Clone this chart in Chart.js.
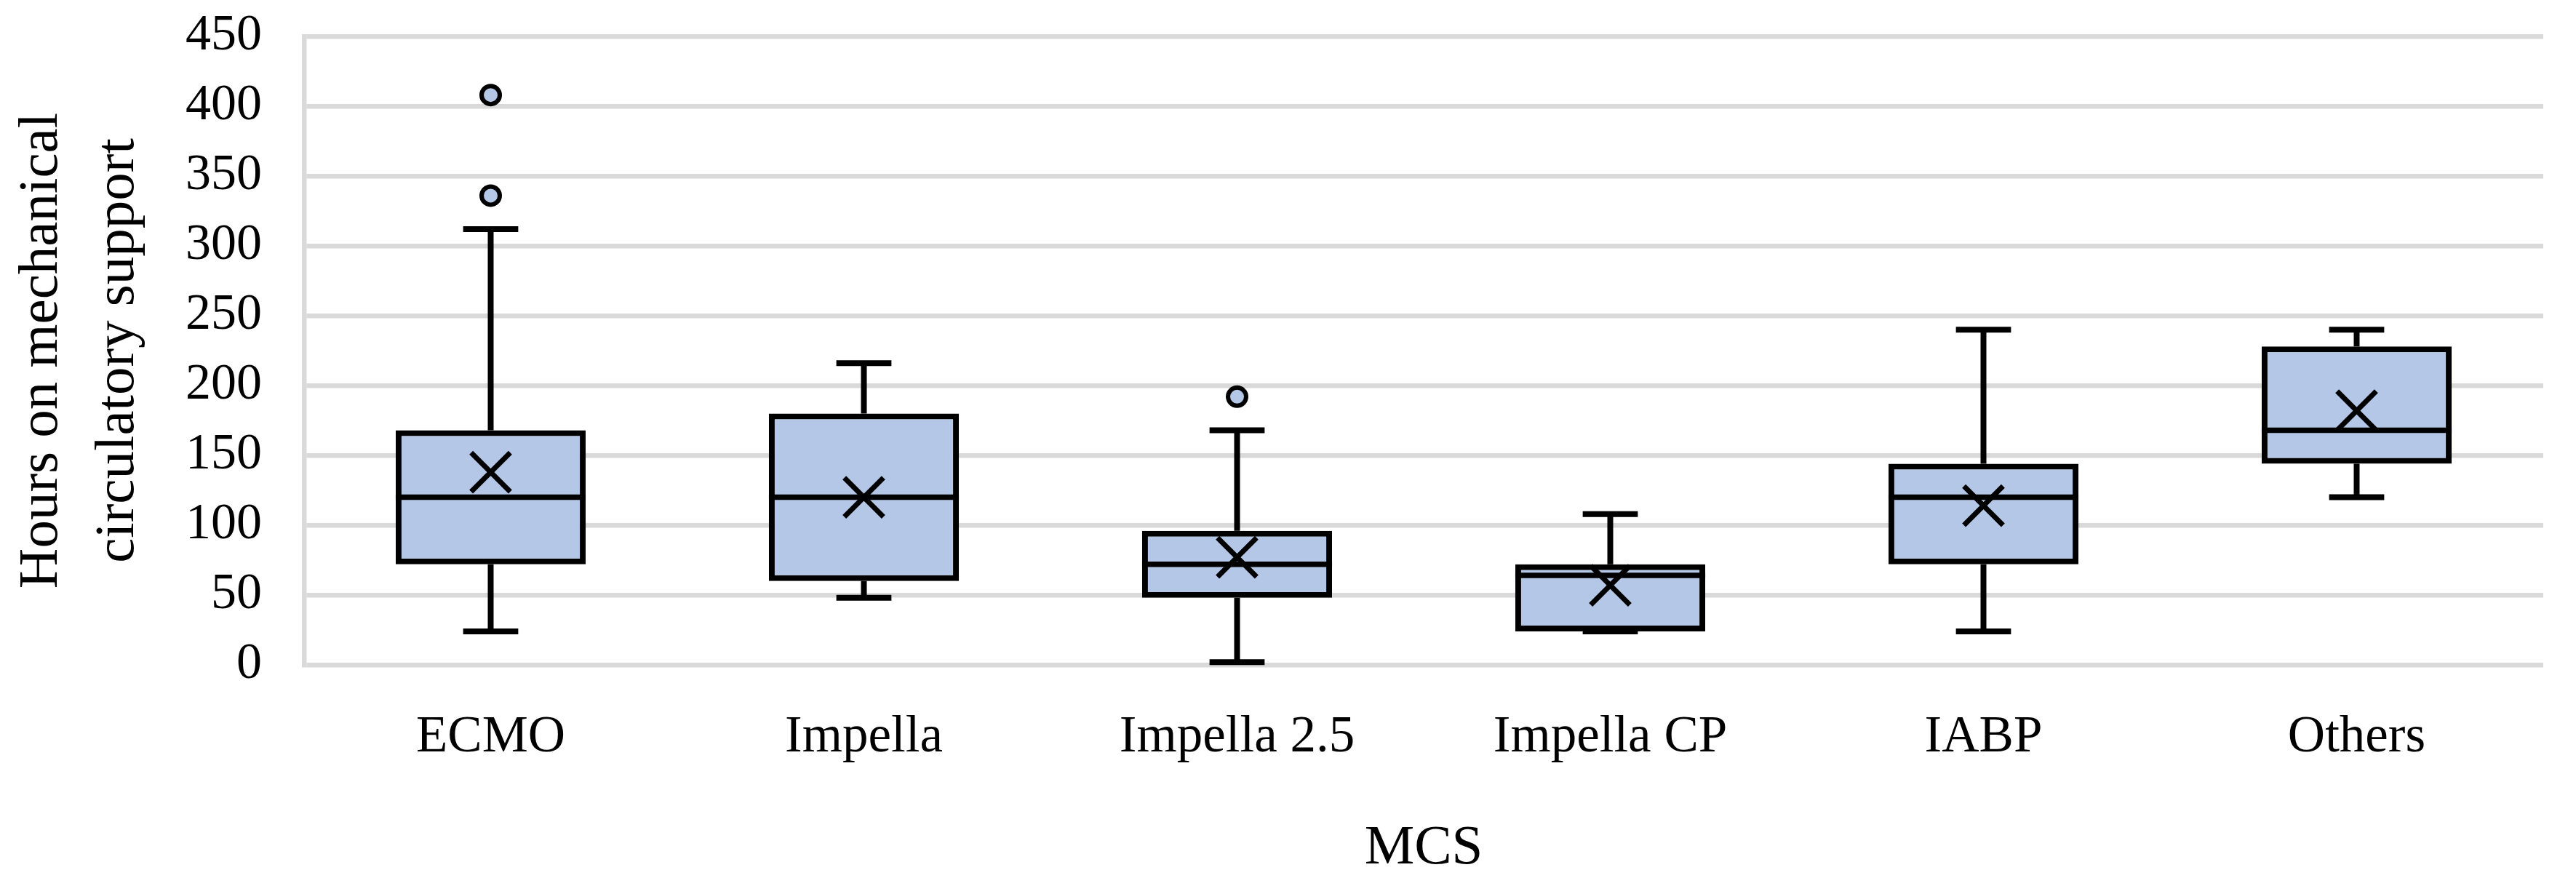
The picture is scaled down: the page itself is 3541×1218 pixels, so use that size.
<!DOCTYPE html>
<html>
<head>
<meta charset="utf-8">
<title>Hours on mechanical circulatory support</title>
<script src="https://cdn.jsdelivr.net/npm/chart.js@4/dist/chart.umd.min.js"></script>
<style>
  html, body { margin: 0; padding: 0; background: #ffffff; }
  #wrap { width: 3541px; height: 1218px; position: relative; }
</style>
</head>
<body>
<div id="wrap"><canvas id="mcs-chart"></canvas></div>
<script>
"use strict";

// Data (hours)
const categories = ["ECMO", "Impella", "Impella 2.5", "Impella CP", "IABP", "Others"];
const minVals    = [24, 48, 2, 24, 24, 120];
const q1Vals     = [72, 60, 48, 24, 72, 144];
const medianVals = [120, 120, 72, 64, 120, 168];
const q3Vals     = [168, 180, 96, 72, 144, 228];
const maxVals    = [312, 216, 168, 108, 240, 240];
const meanVals   = [138, 120, 77, 57, 114, 182];
const outlierCats = ["ECMO", "ECMO", "Impella 2.5"];
const outlierVals = [408, 336, 192];
const yTicks = [0, 50, 100, 150, 200, 250, 300, 350, 400, 450];

const boxFill = "#b4c7e7";
const gridGrey = "#d9d9d9";
const serif = "'Liberation Serif', 'Times New Roman', serif";

// whiskers go under the boxes, medians on top of them
const boxPlotLines = {
    id: "boxPlotLines",
    beforeDatasetsDraw(chart) {
        const meta = chart.getDatasetMeta(0);
        const y = chart.scales.y;
        const ctx = chart.ctx;
        ctx.save();
        ctx.strokeStyle = "#000000";
        ctx.lineWidth = 8;
        ctx.lineCap = "butt";
        meta.data.forEach((bar, i) => {
            const half = bar.width * 0.145;
            const yMin = y.getPixelForValue(minVals[i]);
            const yMax = y.getPixelForValue(maxVals[i]);
            const yQ1 = y.getPixelForValue(q1Vals[i]);
            const yQ3 = y.getPixelForValue(q3Vals[i]);
            ctx.beginPath();
            ctx.moveTo(bar.x, yQ3);
            ctx.lineTo(bar.x, yMax);
            ctx.moveTo(bar.x - half, yMax);
            ctx.lineTo(bar.x + half, yMax);
            ctx.moveTo(bar.x, yQ1);
            ctx.lineTo(bar.x, yMin);
            ctx.moveTo(bar.x - half, yMin);
            ctx.lineTo(bar.x + half, yMin);
            ctx.stroke();
        });
        ctx.restore();
    },
    afterDatasetDraw(chart, args) {
        if (args.index !== 0) return;
        const meta = chart.getDatasetMeta(0);
        const y = chart.scales.y;
        const ctx = chart.ctx;
        ctx.save();
        ctx.strokeStyle = "#000000";
        ctx.lineWidth = 7.5;
        meta.data.forEach((bar, i) => {
            const yMed = y.getPixelForValue(medianVals[i]);
            ctx.beginPath();
            ctx.moveTo(bar.x - bar.width / 2, yMed);
            ctx.lineTo(bar.x + bar.width / 2, yMed);
            ctx.stroke();
        });
        ctx.restore();
    }
};

let boxes = categories.map((c, i) => [q1Vals[i], q3Vals[i]]);
let outlierPts = outlierCats.map((c, i) => ({ x: c, y: outlierVals[i] }));

var ctx1 = document.querySelector("#mcs-chart");
var myChart = new Chart(ctx1, {
    type: "bar",
    data: {
        labels: categories,
        datasets: [
            {
                label: "Box",
                data: boxes,
                backgroundColor: boxFill,
                borderColor: "#000000",
                borderWidth: 8,
                borderSkipped: false,
                categoryPercentage: 1,
                barPercentage: 0.509,
                order: 3
            },
            {
                type: "line",
                label: "Outliers",
                data: outlierPts,
                showLine: false,
                pointStyle: "circle",
                pointRadius: 12.5,
                pointBorderWidth: 6,
                pointBackgroundColor: boxFill,
                pointBorderColor: "#000000",
                order: 2
            },
            {
                type: "line",
                label: "Mean",
                data: meanVals,
                showLine: false,
                pointStyle: "crossRot",
                pointRadius: 38,
                pointBorderWidth: 7,
                pointBorderColor: "#000000",
                pointBackgroundColor: "#000000",
                order: 1
            }
        ]
    },
    options: {
        responsive: true,
        maintainAspectRatio: false,
        animation: false,
        events: [],
        layout: { padding: { top: 50, right: 35, bottom: 0, left: 0 } },
        plugins: {
            legend: { display: false },
            tooltip: { enabled: false }
        },
        scales: {
            x: {
                grid: { display: false, drawTicks: false },
                border: { display: false },
                ticks: {
                    color: "#000000",
                    padding: 58,
                    maxRotation: 0,
                    font: { family: serif, size: 71, lineHeight: 1.2 }
                },
                title: {
                    display: true,
                    text: "MCS",
                    color: "#000000",
                    padding: { top: 0, bottom: 5 },
                    font: { family: serif, size: 77, lineHeight: 1.2 }
                },
                afterFit: (scale) => {
                    scale.height = 304;
                    scale.paddingLeft = 0;
                    scale.paddingRight = 0;
                }
            },
            y: {
                min: 0,
                max: 450,
                afterBuildTicks: (scale) => { scale.ticks = yTicks.map(v => ({ value: v })); },
                grid: { color: gridGrey, lineWidth: 6.5, drawTicks: false },
                border: { display: true, color: gridGrey, width: 6.5 },
                ticks: {
                    color: "#000000",
                    padding: 58,
                    font: { family: serif, size: 70, lineHeight: 1.2 }
                },
                title: {
                    display: true,
                    text: ["Hours on mechanical", "circulatory support"],
                    color: "#000000",
                    padding: { top: 5, bottom: 0 },
                    font: { family: serif, size: 77, lineHeight: 1.364 }
                },
                afterFit: (scale) => {
                    scale.width = 418;
                    scale.paddingTop = 0;
                    scale.paddingBottom = 0;
                }
            }
        }
    },
    plugins: [boxPlotLines]
});
</script>
</body>
</html>
